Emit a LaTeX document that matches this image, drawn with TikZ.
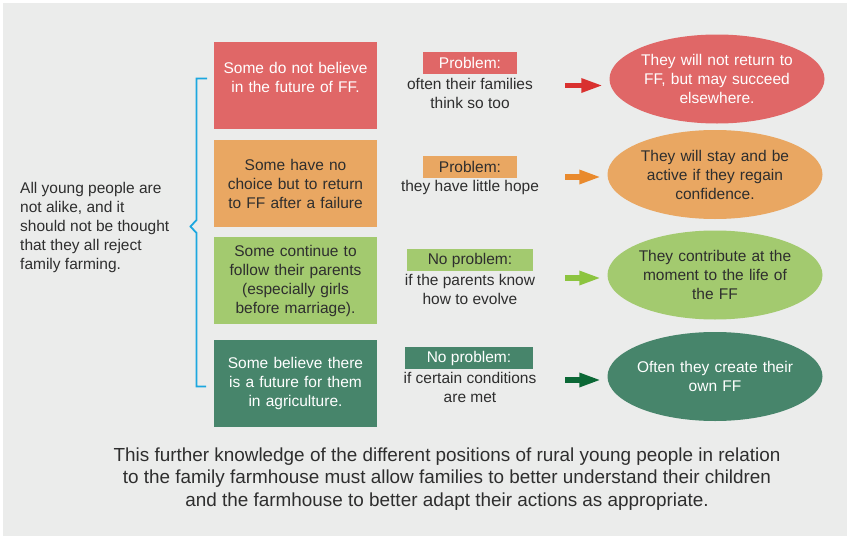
\documentclass[tikz,border=0pt]{standalone}
\usepackage{fontspec}
\setmainfont{Liberation Sans}
\usetikzlibrary{shapes.geometric,arrows.meta}
\definecolor{pagebg}{HTML}{EBECEB}
\definecolor{ink}{HTML}{2E2E2E}
\definecolor{redbox}{HTML}{E06767}
\definecolor{orangebox}{HTML}{E9A762}
\definecolor{lightgreenbox}{HTML}{A3CA6F}
\definecolor{darkgreenbox}{HTML}{47856B}
\definecolor{redarrow}{HTML}{D9312F}
\definecolor{orangearrow}{HTML}{E98A2D}
\definecolor{lightgreenarrow}{HTML}{8CC43F}
\definecolor{darkgreenarrow}{HTML}{0B6836}
\definecolor{bracecol}{HTML}{1CA7DF}
\tikzset{
  txt/.style={font=\fontsize{15.5}{19}\selectfont, inner sep=0pt},
  stmt/.style={txt, rectangle, minimum width=163pt, minimum height=87pt, text width=152pt, align=center},
  tag/.style={txt, rectangle, minimum height=22pt, align=center},
  note/.style={txt, text=ink, align=center},
  outcome/.style={txt, ellipse, minimum width=215pt, minimum height=89pt, text width=170pt, inner xsep=-9pt, align=center},
  arr/.style={line width=5.5pt, -{Triangle[length=22pt,width=13pt]}},
}
\begin{document}
\begin{tikzpicture}[x=1pt,y=-1pt]
   \useasboundingbox (0,0) rectangle (847,536);
   \fill[pagebg] (3,3) rectangle (847,536);
   % intro text and bracket
   \node[note, anchor=west, align=left] (intro) at (20,227) {All young people are\\not alike, and it\\should not be thought\\that they all reject\\family farming.};
   \draw[bracecol, line width=1.8pt] (207,78.5) -- (196.5,78.5) -- (196.5,220) -- (190.5,226.5) -- (196.5,233) -- (196.5,386.5) -- (206,386.5);
   % statements
   \node[stmt, fill=redbox, text=white] (s1) at (295.5,85.5) {Some do not believe\\in the future of FF.\\[-8pt] \strut};
   \node[stmt, fill=orangebox, text=ink] (s2) at (295.5,183.5) {Some have no\\choice but to return\\to FF after a failure};
   \node[stmt, fill=lightgreenbox, text=ink] (s3) at (295.5,280.5) {Some continue to\\follow their parents\\(especially girls\\before marriage).};
   \node[stmt, fill=darkgreenbox, text=white] (s4) at (295.5,383.5) {Some believe there\\is a future for them\\in agriculture.};
   % problem tags
   \node[tag, fill=redbox, text=white, minimum width=94pt] (p1) at (470,63) {Problem:};
   \node[tag, fill=orangebox, text=ink, minimum width=94pt] (p2) at (470,167) {Problem:};
   \node[tag, fill=lightgreenbox, text=ink, minimum width=126pt] (p3) at (470,260) {No problem:};
   \node[tag, fill=darkgreenbox, text=white, minimum width=128pt] (p4) at (469,358) {No problem:};
   \node[note] (n1) at (470,93.5) {often their families\\think so too};
   \node[note] (n2) at (470,187) {they have little hope};
   \node[note] (n3) at (470,289.5) {if the parents know\\how to evolve};
   \node[note] (n4) at (470,387.5) {if certain conditions\\are met};
   % outcomes
   \node[outcome, fill=redbox, text=white] (o1) at (717,79) {They will not return to\\FF, but may succeed\\elsewhere.};
   \node[outcome, fill=orangebox, text=ink] (o2) at (715,174.5) {They will stay and be\\active if they regain\\confidence.};
   \node[outcome, fill=lightgreenbox, text=ink] (o3) at (715,275) {They contribute at the\\moment to the life of\\the FF};
   \node[outcome, fill=darkgreenbox, text=white] (o4) at (715,376.5) {Often they create their\\own FF};
   % arrows
   \coordinate (a1) at (565,85.5);
   \coordinate (a2) at (565,177);
   \coordinate (a3) at (565,278);
   \coordinate (a4) at (565,380);
   \draw[arr, redarrow] (a1) -- ([xshift=-6pt]a1 -| o1.west);
   \draw[arr, orangearrow] (a2) -- ([xshift=-6pt]a2 -| o2.west);
   \draw[arr, lightgreenarrow] (a3) -- ([xshift=-6pt]a3 -| o3.west);
   \draw[arr, darkgreenarrow] (a4) -- ([xshift=-6pt]a4 -| o4.west);
   % closing remark
   \node[inner sep=0pt, text=ink, align=center, font=\fontsize{18.9}{22.5}\selectfont] (remark) at (447,479) {This further knowledge of the different positions of rural young people in relation\\to the family farmhouse must allow families to better understand their children\\and the farmhouse to better adapt their actions as appropriate.};
\end{tikzpicture}
\end{document}
